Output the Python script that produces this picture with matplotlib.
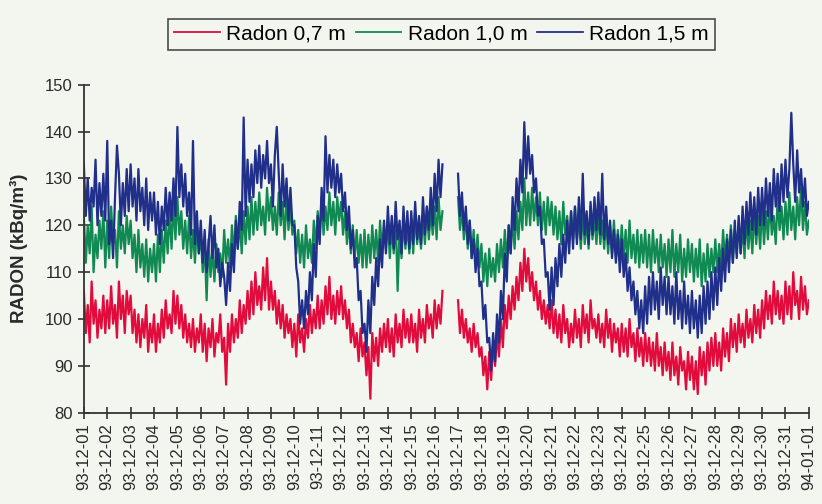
import numpy as np
import pandas as pd
import matplotlib
matplotlib.use("Agg")
import matplotlib.pyplot as plt
import matplotlib.dates as mdates

plt.rcParams['font.family'] = ['Liberation Sans', 'DejaVu Sans']

nan = np.nan

# 2-hourly readings, one line per day (93-12-01 ... 93-12-31), last value = 94-01-01
radon_07 = [
    106, 97, 103, 95, 108, 99, 104, 96, 102, 98, 105, 97,
    104, 98, 107, 99, 103, 96, 108, 100, 105, 97, 106, 101,
    105, 97, 102, 95, 101, 94, 100, 96, 103, 93, 99, 95,
    101, 93, 99, 95, 102, 96, 104, 98, 101, 97, 106, 99,
    105, 98, 103, 96, 101, 95, 99, 94, 100, 93, 98, 95,
    101, 93, 99, 91, 98, 94, 100, 92, 97, 95, 101, 93,
    96, 86, 99, 93, 101, 95, 100, 96, 104, 97, 103, 99,
    106, 100, 108, 101, 110, 103, 107, 102, 111, 104, 113, 102,
    108, 102, 106, 99, 104, 98, 103, 96, 101, 97, 100, 94,
    99, 92, 101, 95, 98, 93, 100, 96, 103, 97, 102, 98,
    105, 98, 104, 99, 107, 101, 109, 100, 105, 99, 106, 101,
    107, 100, 104, 98, 102, 95, 99, 94, 97, 91, 98, 92,
    95, 88, 94, 83, 97, 91, 96, 90, 98, 93, 99, 94,
    100, 93, 98, 92, 101, 95, 99, 94, 102, 96, 100, 95,
    101, 95, 99, 93, 102, 96, 100, 95, 103, 98, 101, 96,
    104, 98, 103, 99, 106, nan, nan, nan, nan, nan, nan, nan,
    104, 97, 102, 96, 100, 95, 98, 93, 99, 94, 97, 92,
    94, 88, 92, 85, 93, 87, 95, 90, 97, 92, 100, 94,
    103, 98, 105, 100, 107, 102, 109, 104, 112, 106, 115, 108,
    113, 106, 110, 104, 108, 102, 106, 100, 104, 99, 103, 98,
    104, 97, 102, 96, 101, 95, 103, 97, 100, 94, 99, 95,
    102, 96, 100, 94, 103, 97, 101, 95, 104, 98, 100, 96,
    101, 95, 99, 94, 102, 96, 100, 93, 99, 95, 98, 92,
    99, 93, 98, 92, 100, 94, 97, 91, 98, 92, 96, 90,
    97, 91, 96, 90, 95, 89, 97, 90, 94, 88, 95, 89,
    93, 87, 95, 88, 92, 86, 94, 89, 91, 85, 93, 87,
    92, 85, 91, 84, 94, 88, 93, 86, 95, 89, 96, 90,
    97, 90, 95, 89, 98, 92, 97, 91, 100, 94, 99, 93,
    101, 95, 99, 94, 102, 96, 100, 95, 103, 97, 102, 96,
    104, 98, 106, 100, 105, 99, 108, 101, 106, 100, 105, 99,
    108, 101, 107, 100, 110, 103, 106, 100, 109, 102, 107, 101,
    104,
]

radon_10 = [
    122, 112, 120, 114, 124, 110, 118, 113, 121, 115, 123, 111,
    121, 113, 124, 116, 119, 111, 123, 115, 120, 114, 122, 116,
    121, 113, 118, 110, 119, 111, 116, 109, 117, 108, 115, 110,
    116, 108, 118, 110, 119, 112, 121, 114, 123, 115, 125, 117,
    126, 118, 123, 115, 121, 114, 122, 113, 119, 112, 120, 114,
    118, 110, 116, 104, 117, 109, 115, 108, 116, 110, 114, 109,
    119, 112, 117, 111, 120, 113, 122, 115, 121, 114, 123, 116,
    124, 117, 126, 118, 125, 119, 127, 120, 124, 118, 128, 121,
    126, 119, 124, 118, 127, 120, 125, 117, 126, 119, 124, 118,
    121, 114, 119, 112, 118, 111, 120, 113, 117, 112, 121, 115,
    123, 117, 126, 118, 124, 119, 127, 120, 125, 118, 126, 121,
    125, 118, 123, 116, 121, 114, 120, 113, 119, 112, 118, 111,
    119, 111, 118, 112, 120, 113, 119, 112, 121, 114, 120, 115,
    121, 113, 120, 114, 122, 106, 119, 113, 121, 115, 120, 114,
    121, 114, 123, 116, 120, 115, 122, 116, 124, 117, 123, 118,
    124, 117, 126, 119, 123, nan, nan, nan, nan, nan, nan, nan,
    126, 119, 124, 117, 122, 115, 121, 113, 119, 112, 118, 111,
    116, 108, 114, 107, 115, 109, 113, 108, 116, 110, 117, 111,
    119, 112, 120, 114, 122, 115, 123, 117, 125, 119, 130, 120,
    127, 120, 128, 121, 126, 120, 127, 119, 125, 118, 126, 120,
    125, 118, 124, 117, 123, 116, 125, 118, 122, 116, 123, 117,
    124, 117, 122, 115, 123, 116, 121, 115, 124, 117, 122, 116,
    123, 116, 121, 115, 122, 114, 120, 114, 121, 113, 119, 113,
    120, 113, 119, 112, 121, 113, 118, 112, 119, 111, 118, 112,
    119, 111, 118, 110, 119, 112, 117, 110, 118, 111, 116, 109,
    117, 110, 119, 109, 116, 110, 118, 108, 115, 109, 117, 110,
    116, 108, 115, 109, 117, 107, 114, 108, 116, 109, 115, 110,
    117, 110, 116, 111, 119, 112, 118, 113, 120, 112, 119, 114,
    121, 114, 120, 113, 122, 115, 121, 114, 123, 116, 122, 115,
    124, 116, 123, 117, 125, 118, 122, 116, 126, 119, 124, 117,
    125, 118, 127, 119, 124, 117, 126, 120, 128, 119, 125, 118,
    121,
]

radon_15 = [
    133, 122, 130, 121, 128, 124, 134, 120, 129, 122, 131, 121,
    138, 116, 121, 113, 126, 137, 131, 120, 129, 122, 132, 123,
    133, 124, 130, 121, 132, 123, 128, 120, 130, 119, 127, 121,
    127, 118, 125, 116, 124, 119, 128, 120, 127, 121, 130, 122,
    141, 126, 133, 124, 131, 122, 127, 118, 138, 116, 123, 114,
    121, 112, 119, 110, 116, 122, 113, 120, 111, 115, 107, 112,
    109, 103, 112, 106, 116, 110, 121, 115, 125, 119, 143, 122,
    134, 125, 133, 126, 136, 129, 137, 128, 135, 130, 138, 129,
    133, 124, 135, 141, 131, 122, 133, 124, 130, 121, 128, 120,
    120, 111, 108, 99, 104, 98, 106, 101, 110, 104, 116, 109,
    122, 116, 128, 121, 139, 127, 135, 128, 134, 126, 133, 127,
    131, 123, 127, 119, 124, 115, 119, 111, 113, 104, 106, 97,
    99, 93, 104, 97, 109, 103, 113, 107, 117, 111, 121, 114,
    124, 116, 122, 115, 125, 117, 121, 114, 124, 116, 123, 115,
    123, 116, 125, 117, 122, 116, 126, 118, 124, 119, 128, 120,
    131, 123, 134, 126, 133, nan, nan, nan, nan, nan, nan, nan,
    131, 122, 127, 119, 124, 116, 121, 113, 117, 110, 115, 107,
    108, 100, 103, 95, 96, 89, 97, 91, 101, 95, 106, 100,
    114, 108, 120, 114, 126, 119, 130, 123, 134, 127, 142, 130,
    139, 131, 135, 127, 130, 122, 124, 116, 117, 109, 110, 102,
    111, 103, 113, 107, 116, 109, 118, 112, 121, 114, 123, 115,
    124, 116, 126, 117, 131, 118, 123, 116, 125, 118, 126, 119,
    127, 118, 131, 117, 124, 116, 121, 113, 119, 112, 118, 110,
    117, 109, 114, 106, 111, 104, 108, 101, 106, 98, 104, 97,
    107, 99, 109, 101, 110, 102, 108, 100, 111, 103, 109, 101,
    109, 101, 107, 99, 110, 100, 106, 98, 108, 99, 105, 97,
    106, 98, 104, 96, 105, 97, 107, 99, 108, 100, 110, 102,
    111, 103, 113, 106, 115, 108, 117, 110, 119, 112, 121, 113,
    122, 114, 124, 116, 125, 118, 127, 119, 126, 118, 128, 120,
    128, 120, 130, 122, 129, 121, 132, 124, 131, 123, 133, 125,
    134, 126, 132, 144, 133, 125, 136, 127, 132, 124, 130, 122,
    125,
]

labels = ["Radon 0,7 m", "Radon 1,0 m", "Radon 1,5 m"]
colors = ["#e10b3c", "#108a52", "#202f8a"]

paper = "#f3f5ef"
fig = plt.figure(figsize=(8.22, 5.04), dpi=100, facecolor=paper)
ax = fig.add_axes([0.102, 0.181, 0.882, 0.651], facecolor=paper)

for vals, lab, c in zip([radon_07, radon_10, radon_15], labels, colors):
    times = pd.date_range("1993-12-01", periods=len(vals), freq="2h")
    ax.plot(times, vals, color=c, lw=1.6, label=lab)

ax.set_ylim(80, 150)
ax.set_yticks(np.arange(80, 151, 10))
ax.set_xlim(pd.Timestamp("1993-12-01"), pd.Timestamp("1994-01-01"))
ax.xaxis.set_major_locator(mdates.DayLocator())
ax.xaxis.set_major_formatter(mdates.DateFormatter("%y-%m-%d"))
plt.setp(ax.get_xticklabels(), rotation=90)

for s in ["top", "right"]:
    ax.spines[s].set_visible(False)
for s in ["left", "bottom"]:
    ax.spines[s].set_color("#333333")
    ax.spines[s].set_linewidth(1.3)
ax.tick_params(direction="inout", length=9, width=1.2, colors="#333333",
               labelsize=12, labelcolor="#2a2a2a")
ax.tick_params(axis="x", pad=3)

ax.set_ylabel("RADON (kBq/m³)", fontsize=13.5, fontweight="bold", color="#2a2a2a")
ax.yaxis.set_label_coords(-0.077, 0.5)

leg = fig.legend(loc="center", bbox_to_anchor=(0.537, 0.932), ncol=3,
                 frameon=True, fancybox=False, edgecolor="#222222",
                 facecolor=paper, fontsize=15, handlelength=2.2,
                 handletextpad=0.3, columnspacing=0.45, borderpad=0.3)
leg.get_frame().set_linewidth(1.2)
for h in leg.get_lines():
    h.set_linewidth(1.3)

fig.savefig("out.png", dpi=100, facecolor=paper)
